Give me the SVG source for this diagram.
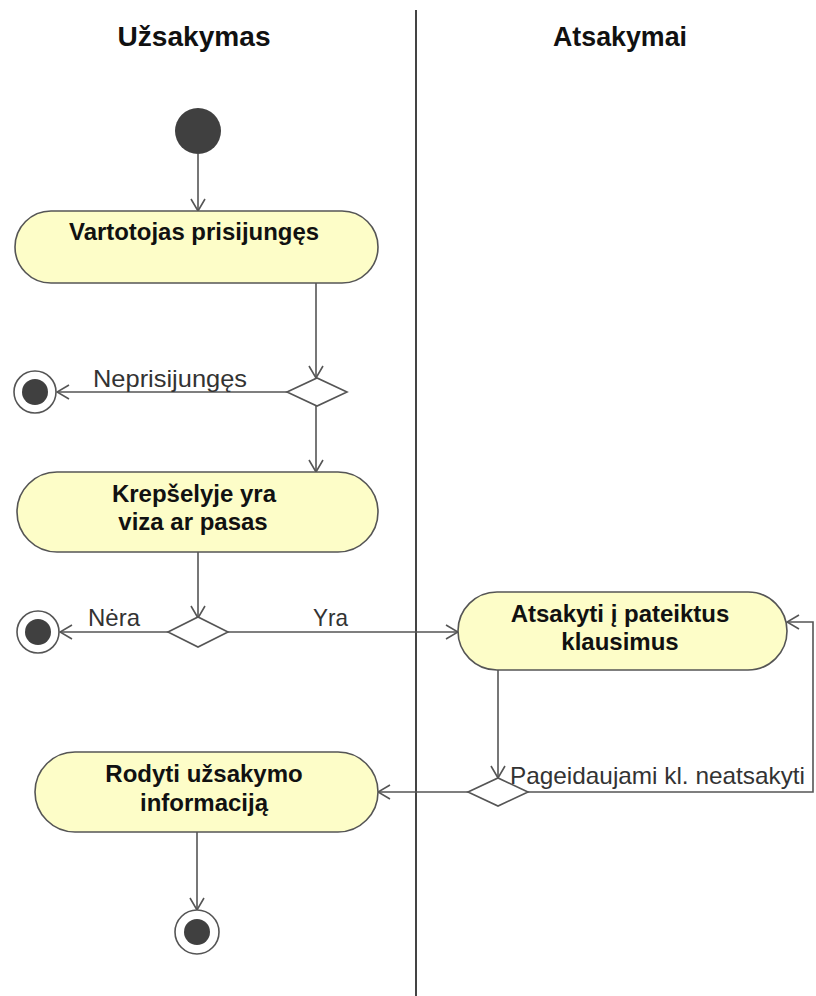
<svg xmlns="http://www.w3.org/2000/svg" width="816" height="996" viewBox="0 0 816 996">
  <style>
    .lane { stroke: #444; stroke-width: 2; }
    .title { font-family: "Liberation Sans", Arial, sans-serif; font-weight: bold; font-size: 27px; fill: #111; text-anchor: middle; }
    .action { fill: #fdfdc8; stroke: #555; stroke-width: 1.6; }
    .atext { font-family: "Liberation Sans", Arial, sans-serif; font-weight: bold; font-size: 24px; fill: #111; text-anchor: middle; }
    .label { font-family: "Liberation Sans", Arial, sans-serif; font-size: 24px; fill: #333; }
    .flow { fill: none; stroke: #555; stroke-width: 1.6; }
    .decision { fill: #fff; stroke: #555; stroke-width: 1.6; }
    .dot { fill: #404040; }
    .ring { fill: #fff; stroke: #555; stroke-width: 1.6; }
  </style>
  <defs>
    <marker id="open" viewBox="0 0 14 16" refX="13" refY="8" markerWidth="14" markerHeight="16" markerUnits="userSpaceOnUse" orient="auto">
      <path d="M1,1 L13,8 L1,15" fill="none" stroke="#555" stroke-width="1.6"/>
    </marker>
  </defs>

  <rect width="816" height="996" fill="#fff"/>

  <!-- swimlanes -->
  <g id="lanes">
    <line class="lane" x1="416" y1="10" x2="416" y2="996"/>
    <text class="title" x="194" y="46" textLength="153" lengthAdjust="spacingAndGlyphs">Užsakymas</text>
    <text class="title" x="620" y="46" textLength="134" lengthAdjust="spacingAndGlyphs">Atsakymai</text>
  </g>

  <!-- connectors -->
  <g id="connectors">
    <path class="flow" d="M198,154 L198,211" marker-end="url(#open)"/>
    <path class="flow" d="M316,283 L316,378" marker-end="url(#open)"/>
    <path class="flow" d="M287,392 L57,392" marker-end="url(#open)"/>
    <path class="flow" d="M316,406 L316,472" marker-end="url(#open)"/>
    <path class="flow" d="M198,552 L198,618" marker-end="url(#open)"/>
    <path class="flow" d="M168,632 L60,632" marker-end="url(#open)"/>
    <path class="flow" d="M228,632 L458,632" marker-end="url(#open)"/>
    <path class="flow" d="M498,670 L498,778" marker-end="url(#open)"/>
    <path class="flow" d="M468,792 L378,792" marker-end="url(#open)"/>
    <path class="flow" d="M528,792 L813,792 L813,622 L787,622" marker-end="url(#open)"/>
    <path class="flow" d="M197,832 L197,910" marker-end="url(#open)"/>
    <text class="label" x="93" y="387" textLength="154" lengthAdjust="spacingAndGlyphs">Neprisijungęs</text>
    <text class="label" x="88" y="626" textLength="52" lengthAdjust="spacingAndGlyphs">Nėra</text>
    <text class="label" x="313" y="626" textLength="35" lengthAdjust="spacingAndGlyphs">Yra</text>
    <text class="label" x="510" y="784" textLength="295" lengthAdjust="spacingAndGlyphs">Pageidaujami kl. neatsakyti</text>
  </g>

  <g id="start">
    <circle class="dot" cx="198" cy="131" r="23"/>
  </g>

  <g id="a1">
    <rect class="action" x="15" y="211" width="363" height="72" rx="36" ry="36"/>
    <text class="atext" x="194" y="240" textLength="250" lengthAdjust="spacingAndGlyphs">Vartotojas prisijungęs</text>
  </g>

  <g id="d1">
    <polygon class="decision" points="287,392 317,378 347,392 317,406"/>
  </g>

  <g id="end1">
    <circle class="ring" cx="35" cy="392" r="21"/>
    <circle class="dot" cx="35" cy="392" r="13"/>
  </g>

  <g id="a2">
    <rect class="action" x="17" y="472" width="361" height="80" rx="40" ry="40"/>
    <text class="atext" x="194" y="502">Krepšelyje yra</text>
    <text class="atext" x="193" y="530">viza ar pasas</text>
  </g>

  <g id="d2">
    <polygon class="decision" points="168,632 198,617 228,632 198,647"/>
  </g>

  <g id="end2">
    <circle class="ring" cx="38" cy="632" r="21"/>
    <circle class="dot" cx="38" cy="632" r="13"/>
  </g>

  <g id="a3">
    <rect class="action" x="458" y="592" width="329" height="78" rx="39" ry="39"/>
    <text class="atext" x="620" y="622">Atsakyti į pateiktus</text>
    <text class="atext" x="620" y="650">klausimus</text>
  </g>

  <g id="d3">
    <polygon class="decision" points="468,792 498,778 528,792 498,806"/>
  </g>

  <g id="a4">
    <rect class="action" x="35" y="752" width="343" height="80" rx="40" ry="40"/>
    <text class="atext" x="204" y="782">Rodyti užsakymo</text>
    <text class="atext" x="204" y="811">informaciją</text>
  </g>

  <g id="end3">
    <circle class="ring" cx="197" cy="932" r="22"/>
    <circle class="dot" cx="197" cy="932" r="13"/>
  </g>
</svg>
